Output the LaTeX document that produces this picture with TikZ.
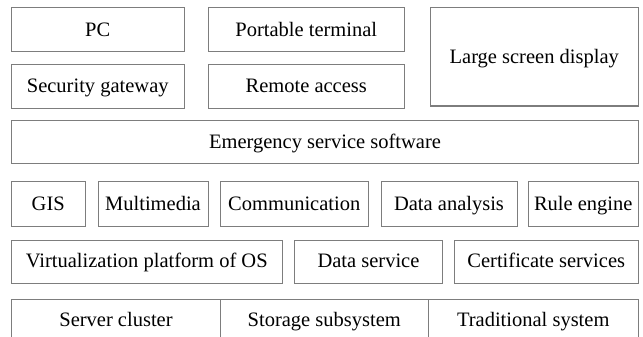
\documentclass[tikz,border=0pt]{standalone}
\usepackage{fontspec}
\setmainfont{Liberation Serif}
\definecolor{linegray}{RGB}{125,125,125}
\tikzset{
  box/.style={draw=linegray, line width=1pt, inner sep=0pt, anchor=north west,
    text height=15.5pt, text depth=3pt,
    font=\fontsize{20.5}{24}\selectfont, text=black},
}
\begin{document}
\begin{tikzpicture}[x=1pt, y=-1pt]
\clip (0,0) rectangle (643,337);
\fill[white] (0,0) rectangle (643,337);
% row 1 and 2
\node[box, minimum width=172.5pt, minimum height=44pt] (pc) at (11,7.5) {PC};
\node[box, minimum width=196.5pt, minimum height=44pt] (port) at (207.5,7.5) {Portable terminal};
\node[box, minimum width=208.5pt, minimum height=98pt] (large) at (429.5,7.5) {Large screen display};
\node[box, minimum width=172.5pt, minimum height=43.5pt] (sec) at (11,64) {Security gateway};
\node[box, minimum width=196.5pt, minimum height=43.5pt] (remote) at (207.5,64) {Remote access};
% emergency
\node[box, minimum width=627pt, minimum height=43.5pt] (emer) at (11,119.5) {Emergency service software};
% row 4
\node[box, minimum width=73.5pt, minimum height=44.5pt] (gis) at (11,181) {GIS};
\node[box, minimum width=110pt, minimum height=44.5pt] (multi) at (97.5,181) {Multimedia};
\node[box, minimum width=147.5pt, minimum height=44.5pt] (comm) at (220,181) {Communication};
\node[box, minimum width=136pt, minimum height=44.5pt] (da) at (380.5,181) {Data analysis};
\node[box, minimum width=110.5pt, minimum height=44.5pt] (re) at (527.5,181) {Rule engine};
% row 5
\node[box, minimum width=270.5pt, minimum height=43pt] (virt) at (11,239.5) {Virtualization platform of OS};
\node[box, minimum width=148pt, minimum height=43pt] (ds) at (294,239.5) {Data service};
\node[box, minimum width=184.5pt, minimum height=43pt] (cert) at (453.5,239.5) {Certificate services};
% row 6 (cut off at the bottom)
\node[box, minimum width=209pt, minimum height=42pt] (sc) at (11,299) {Server cluster};
\node[box, minimum width=207.5pt, minimum height=42pt] (ss) at (220,299) {Storage subsystem};
\node[box, minimum width=210.5pt, minimum height=42pt] (ts) at (427.5,299) {Traditional system};
\end{tikzpicture}
\end{document}
